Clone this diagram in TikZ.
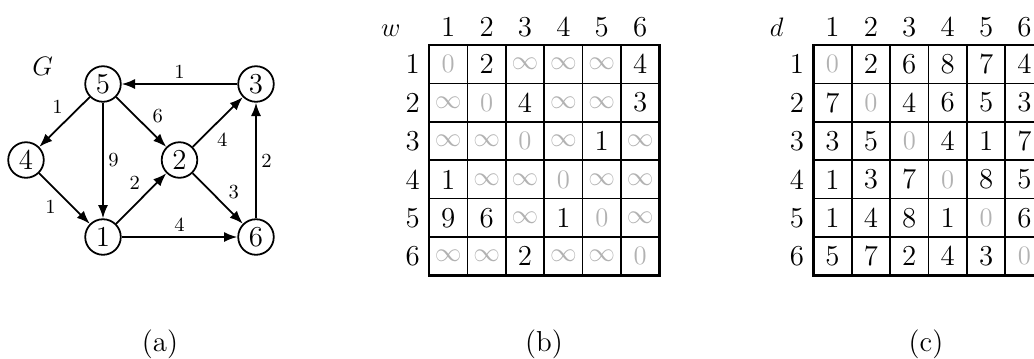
\documentclass[tikz,border=0pt]{standalone}
\usetikzlibrary{arrows.meta}
\definecolor{lightval}{gray}{0.7}
\newcommand\grzero{\textcolor{lightval}{$0$}}
\newcommand\grinf{\textcolor{lightval}{$\infty$}}
\newcommand\bigtxt{\fontsize{13}{15}\selectfont}
\tikzset{
  vertex/.style={draw,circle,thick,minimum size=16pt,inner sep=0pt,font=\bigtxt},
  wlabel/.style={font=\small,inner sep=2pt},
  cell/.style={font=\bigtxt,inner sep=0pt},
  hdr/.style={font=\bigtxt,anchor=base},
  capt/.style={font=\bigtxt},
}
\begin{document}
\begin{tikzpicture}[x=0.45pt,y=-0.45pt,>={Latex[length=6pt,width=4.5pt]}]
  \useasboundingbox (0,0) rectangle (1034,358);
  % (a) the graph
  \node[font=\bigtxt] (G) at (42.7,66.7) {$G$};
  \node[vertex] (n5) at (103,84) {5};
  \node[vertex] (n3) at (256,84) {3};
  \node[vertex] (n4) at (26,160) {4};
  \node[vertex] (n2) at (179.5,160) {2};
  \node[vertex] (n1) at (103,237) {1};
  \node[vertex] (n6) at (256,237) {6};
  \draw[->,thick] (n3) -- node[wlabel,above] {1} (n5);
  \draw[->,thick] (n5) -- node[wlabel,pos=.43,above left] {1} (n4);
  \draw[->,thick] (n5) -- node[wlabel,right] {9} (n1);
  \draw[->,thick] (n5) -- node[wlabel,pos=.62,above right] {6} (n2);
  \draw[->,thick] (n2) -- node[wlabel,pos=.38,below right] {4} (n3);
  \draw[->,thick] (n6) -- node[wlabel,right] {2} (n3);
  \draw[->,thick] (n4) -- node[wlabel,pos=.43,below left] {1} (n1);
  \draw[->,thick] (n1) -- node[wlabel,pos=.58,above left] {2} (n2);
  \draw[->,thick] (n2) -- node[wlabel,pos=.61,above right] {3} (n6);
  \draw[->,thick] (n1) -- node[wlabel,above] {4} (n6);
  \node[capt] (capa) at (160,344) {(a)};
  % (b) the weights w
  \node[hdr] (w) at (390.7,36) {$w$};
  \foreach \c in {1,...,6} \node[hdr] (wc-\c) at ({429+(\c-.5)*38.4},36) {\c};
  \foreach \r in {1,...,6} \node[cell] (wr-\r) at (412.7,{45+(\r-.5)*38.4}) {\r};
  \foreach \row [count=\r] in {{\grzero,2,\grinf,\grinf,\grinf,4},
                               {\grinf,\grzero,4,\grinf,\grinf,3},
                               {\grinf,\grinf,\grzero,\grinf,1,\grinf},
                               {1,\grinf,\grinf,\grzero,\grinf,\grinf},
                               {9,6,\grinf,1,\grzero,\grinf},
                               {\grinf,\grinf,2,\grinf,\grinf,\grzero}} {
    \foreach \v [count=\c] in \row
      \node[cell] (w-\r-\c) at ({429+(\c-.5)*38.4},{45+(\r-.5)*38.4}) {\v};
  }
  \foreach \i in {1,...,5} {
    \draw[thick] ({429+\i*38.4},45) -- ++(0,230.4);
    \draw[thick] (429,{45+\i*38.4}) -- ++(230.4,0);
  }
  \draw[very thick] (429,45) rectangle ++(230.4,230.4);
  \node[capt] (capb) at (544,344) {(b)};
  % (c) the distances d
  \node[hdr] (d) at (776.7,36) {$d$};
  \foreach \c in {1,...,6} \node[hdr] (dc-\c) at ({813.3+(\c-.5)*38.4},36) {\c};
  \foreach \r in {1,...,6} \node[cell] (dr-\r) at (797,{45+(\r-.5)*38.4}) {\r};
  \foreach \row [count=\r] in {{\grzero,2,6,8,7,4},
                               {7,\grzero,4,6,5,3},
                               {3,5,\grzero,4,1,7},
                               {1,3,7,\grzero,8,5},
                               {1,4,8,1,\grzero,6},
                               {5,7,2,4,3,\grzero}} {
    \foreach \v [count=\c] in \row
      \node[cell] (d-\r-\c) at ({813.3+(\c-.5)*38.4},{45+(\r-.5)*38.4}) {\v};
  }
  \foreach \i in {1,...,5} {
    \draw[thick] ({813.3+\i*38.4},45) -- ++(0,230.4);
    \draw[thick] (813.3,{45+\i*38.4}) -- ++(230.4,0);
  }
  \draw[very thick] (813.3,45) rectangle ++(230.4,230.4);
  \node[capt] (capc) at (926,344) {(c)};
\end{tikzpicture}
\end{document}
